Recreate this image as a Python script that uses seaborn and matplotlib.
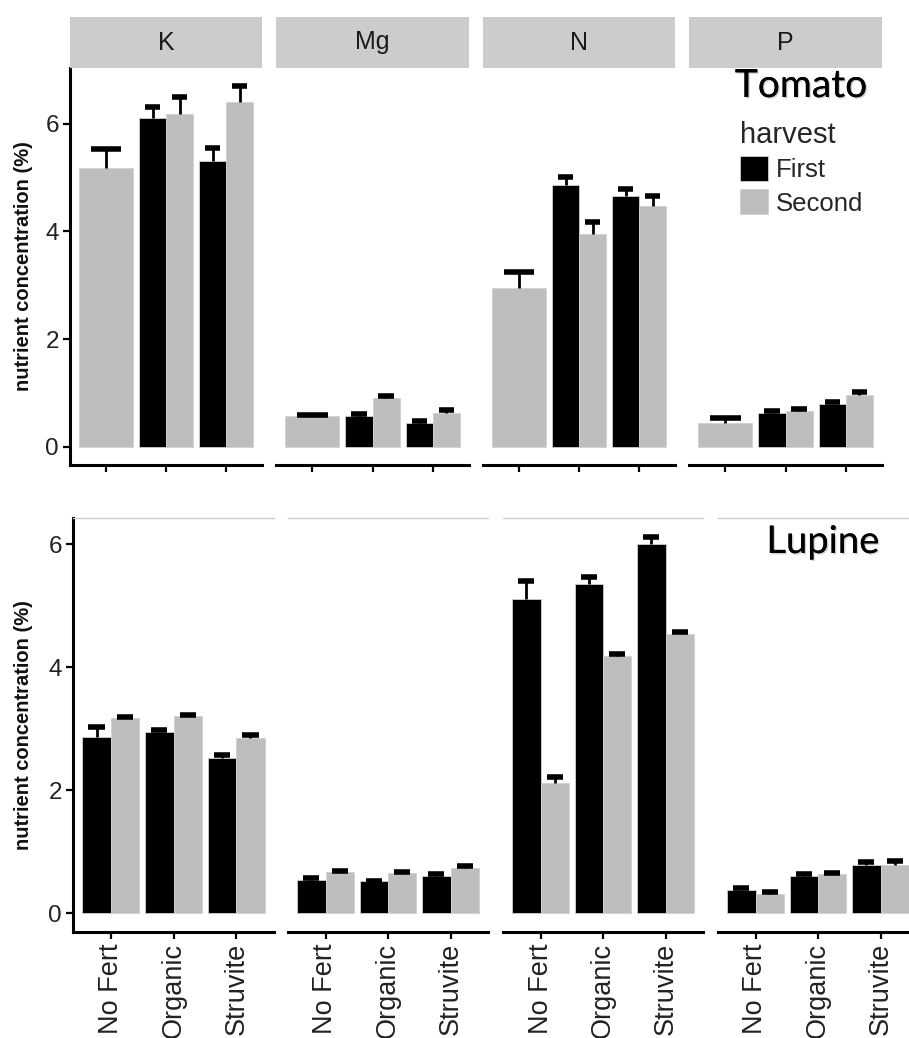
import numpy as np
import pandas as pd
import matplotlib
matplotlib.use("Agg")
import matplotlib.pyplot as plt
import seaborn as sns
from matplotlib.patches import Patch, Rectangle
import matplotlib.patheffects as pe

sns.set_theme(style="ticks")
plt.rcParams['font.family'] = ['Liberation Sans', 'DejaVu Sans']

# ---------------- data ----------------
treatments = ["No Fert", "Organic", "Struvite"]
nutrients = ["K", "Mg", "N", "P"]
harvests = ["First", "Second"]
crops = ["Tomato", "Lupine"]
nan = np.nan

# Tomato: first harvest (no data for No Fert)
tom_first = {"K": [nan, 6.10, 5.31], "Mg": [nan, 0.58, 0.45],
             "N": [nan, 4.87, 4.65], "P": [nan, 0.63, 0.79]}
tom_first_se = {"K": [nan, 0.22, 0.24], "Mg": [nan, 0.03, 0.04],
                "N": [nan, 0.14, 0.13], "P": [nan, 0.03, 0.04]}
tom_second = {"K": [5.18, 6.18, 6.41], "Mg": [0.57, 0.90, 0.63],
              "N": [2.95, 3.96, 4.48], "P": [0.45, 0.67, 0.96]}
tom_second_se = {"K": [0.36, 0.31, 0.29], "Mg": [0.03, 0.04, 0.05],
                 "N": [0.30, 0.22, 0.18], "P": [0.09, 0.03, 0.06]}

# Lupine
lup_first = {"K": [2.87, 2.95, 2.52], "Mg": [0.54, 0.52, 0.60],
             "N": [5.11, 5.36, 6.01], "P": [0.38, 0.61, 0.78]}
lup_first_se = {"K": [0.15, 0.03, 0.05], "Mg": [0.03, 0.01, 0.04],
                "N": [0.29, 0.11, 0.11], "P": [0.03, 0.02, 0.06]}
lup_second = {"K": [3.17, 3.20, 2.85], "Mg": [0.67, 0.65, 0.74],
              "N": [2.11, 4.19, 4.54], "P": [0.31, 0.63, 0.79]}
lup_second_se = {"K": [0.02, 0.03, 0.04], "Mg": [0.02, 0.02, 0.02],
                 "N": [0.11, 0.02, 0.03], "P": [0.04, 0.02, 0.06]}

rows = []
for crop, fv, fs, sv, ss in [("Tomato", tom_first, tom_first_se, tom_second, tom_second_se),
                             ("Lupine", lup_first, lup_first_se, lup_second, lup_second_se)]:
    for nut in nutrients:
        for i, t in enumerate(treatments):
            rows.append(dict(crop=crop, nutrient=nut, treatment=t, harvest="First",
                             value=fv[nut][i], se=fs[nut][i]))
            rows.append(dict(crop=crop, nutrient=nut, treatment=t, harvest="Second",
                             value=sv[nut][i], se=ss[nut][i]))
df = pd.DataFrame(rows).dropna()

palette = {"First": "black", "Second": "#BEBEBE"}

# ---------------- layout ----------------
W, H = 909, 1038
fig = plt.figure(figsize=(W / 100, H / 100), dpi=100)

def frac(x0, x1, y0, y1):
    return [x0 / W, 1 - y1 / H, (x1 - x0) / W, (y1 - y0) / H]

panel_x = {
    "Tomato": [(70, 262), (276, 469), (483, 675), (689, 882)],
    "Lupine": [(73, 274), (288, 488), (503, 703), (718, 918)],
}
panel_y = {"Tomato": (68, 465), "Lupine": (518, 932)}

SPINE_LW = 2.2
for r, crop in enumerate(crops):
    cdf = df[df.crop == crop]
    ymax = (cdf.value + cdf.se).max()
    ylim = (-0.05 * ymax, 1.05 * ymax)
    for c, nut in enumerate(nutrients):
        x0, x1 = panel_x[crop][c]
        y0, y1 = panel_y[crop]
        ax = fig.add_axes(frac(x0, x1, y0, y1))
        pdf = cdf[cdf.nutrient == nut]
        for t in treatments:
            sub = pdf[pdf.treatment == t]
            present = [h for h in harvests if h in set(sub.harvest)]
            n0 = len(ax.patches)
            sns.barplot(data=sub, x="treatment", y="value", hue="harvest",
                        order=treatments, hue_order=present, palette=palette,
                        width=0.9, saturation=1, errorbar=None, legend=False,
                        linewidth=0.6, edgecolor="#D0D0D0", ax=ax)
            new = ax.patches[n0:]
            for p, h in zip(new, present):
                row = sub[sub.harvest == h].iloc[0]
                xc = p.get_x() + p.get_width() / 2
                cw = p.get_width() * 0.57
                v, s = row.value, row.se
                ax.vlines(xc, v, v + s, color="black", lw=2.0, zorder=3)
                ax.hlines(v + s, xc - cw / 2, xc + cw / 2, color="black",
                          lw=4.0, zorder=3, capstyle="butt")
        ax.set_xlim(-0.6, 2.6)
        ax.set_ylim(*ylim)
        ax.set_xlabel("")
        ax.set_ylabel("")
        ax.set_xticks(range(len(treatments)))
        ax.set_yticks([0, 2, 4, 6])
        ax.spines["right"].set_visible(False)
        for side in ("bottom", "left"):
            ax.spines[side].set_linewidth(SPINE_LW)
            ax.spines[side].set_color("black")
        if r == 0:
            ax.spines["top"].set_visible(False)
        else:
            ax.spines["top"].set_color("#CCCCCC")
            ax.spines["top"].set_linewidth(1.0)
        ax.tick_params(axis="both", length=5, width=1.6, color="black",
                       labelsize=17.5, labelcolor="#222222", pad=3)
        if c > 0:
            ax.spines["left"].set_visible(False)
            ax.tick_params(axis="y", left=False, labelleft=False)
        if r == 0:
            ax.tick_params(axis="x", labelbottom=False)
            # strip
            fig.patches.append(Rectangle((x0 / W, 1 - 68 / H), (x1 - x0) / W, 51 / H,
                                         transform=fig.transFigure, facecolor="#CCCCCC",
                                         edgecolor="none", zorder=0))
            fig.text((x0 + x1) / 2 / W, 1 - 42.5 / H, nut, ha="center", va="center",
                     fontsize=18, color="#1A1A1A")
        else:
            ax.set_xticklabels(treatments, rotation=90, fontsize=19.5)
    fig.text(24 / W, 1 - (y0 + y1) / 2 / H, "nutrient concentration (%)",
             rotation=90, ha="center", va="center", fontsize=14.5, fontweight="bold",
             color="#111111")

# crop labels
shadow = [pe.withSimplePatchShadow(offset=(1, -1), shadow_rgbFace="#888888", alpha=0.4),
          pe.Normal()]
fig.text(801 / W, 1 - 97 / H, "Tomato", ha="center", va="baseline", fontsize=28,
         family=["Lato", "DejaVu Sans"], color="black", path_effects=shadow)
fig.text(823 / W, 1 - 553 / H, "Lupine", ha="center", va="baseline", fontsize=27.5,
         family=["Lato", "DejaVu Sans"], color="black", path_effects=shadow)

# legend
handles = [Patch(facecolor=palette[h], edgecolor="#D0D0D0", linewidth=0.6) for h in harvests]
fig.legend(handles=handles, labels=harvests, title="harvest", loc="upper left",
           bbox_to_anchor=(740 / W, 1 - 121 / H), frameon=False, fontsize=18.5,
           title_fontsize=21, handlelength=1.1, handleheight=1.1,
           labelspacing=0.28, handletextpad=0.3, borderpad=0, borderaxespad=0,
           alignment="left")

fig.savefig("out.png", dpi=100)
